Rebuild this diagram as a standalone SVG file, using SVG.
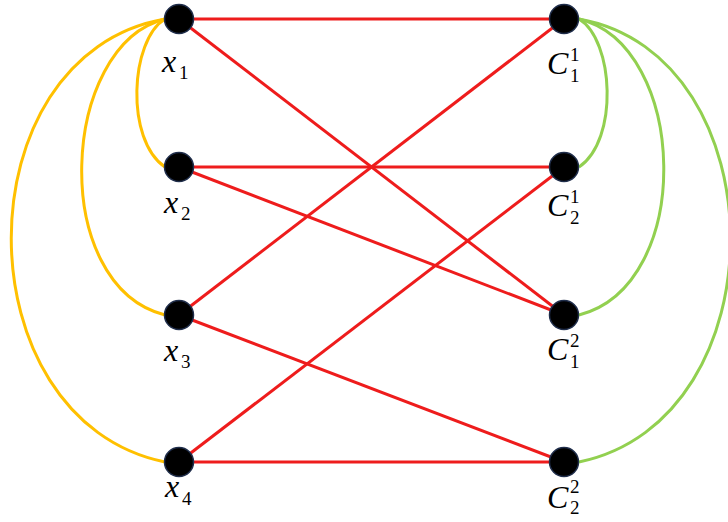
<svg xmlns="http://www.w3.org/2000/svg" width="728" height="522" viewBox="0 0 728 522">
<style>
.red{stroke:#ee1c1c;stroke-width:3;fill:none}
.yel{stroke:#ffc000;stroke-width:3;fill:none}
.grn{stroke:#92d050;stroke-width:3;fill:none}
.node{fill:#000;stroke:#1f2d4a;stroke-width:1.5}
.lbl{font-family:"Liberation Serif","DejaVu Serif",serif;font-style:italic;font-size:32px;fill:#000}
.sm{font-family:"Liberation Serif","DejaVu Serif",serif;font-size:19px;fill:#000}
</style>
<rect width="728" height="522" fill="#fff"/>
<g id="connectors">
<path class="yel" d="M165,19 C130,40 125,140 165,167"/>
<path class="yel" d="M165,19 C60,45 48,285 165,315"/>
<path class="yel" d="M165,19 C-40,55 -40,420 165,462"/>
<path class="grn" d="M579,19 C614,40 619,140 579,167"/>
<path class="grn" d="M579,19 C688,45 696,285 579,315"/>
<path class="grn" d="M579,19 C780,55 782,420 579,462"/>
<line class="red" x1="179" y1="19" x2="564" y2="19"/>
<line class="red" x1="179" y1="19" x2="564" y2="315"/>
<line class="red" x1="179" y1="167" x2="564" y2="167"/>
<line class="red" x1="179" y1="167" x2="564" y2="315"/>
<line class="red" x1="179" y1="315" x2="564" y2="19"/>
<line class="red" x1="179" y1="315" x2="564" y2="462"/>
<line class="red" x1="179" y1="462" x2="564" y2="167"/>
<line class="red" x1="179" y1="462" x2="564" y2="462"/>
</g>
<g id="x1"><circle class="node" cx="179" cy="19" r="14.5"/><text class="lbl" x="162" y="72">x</text><text class="sm" x="179" y="79">1</text></g>
<g id="x2"><circle class="node" cx="179" cy="167" r="14.5"/><text class="lbl" x="164" y="213">x</text><text class="sm" x="181" y="220">2</text></g>
<g id="x3"><circle class="node" cx="179" cy="315" r="14.5"/><text class="lbl" x="164" y="361">x</text><text class="sm" x="181" y="368">3</text></g>
<g id="x4"><circle class="node" cx="179" cy="462" r="14.5"/><text class="lbl" x="165" y="497">x</text><text class="sm" x="182" y="505">4</text></g>
<g id="C11"><circle class="node" cx="564" cy="19" r="14.5"/><text class="lbl" x="547" y="74">C</text><text class="sm" x="570" y="61">1</text><text class="sm" x="570" y="82">1</text></g>
<g id="C21"><circle class="node" cx="564" cy="167" r="14.5"/><text class="lbl" x="547" y="216">C</text><text class="sm" x="570" y="203">1</text><text class="sm" x="570" y="224">2</text></g>
<g id="C12"><circle class="node" cx="564" cy="315" r="14.5"/><text class="lbl" x="547" y="360">C</text><text class="sm" x="570" y="347">2</text><text class="sm" x="570" y="368">1</text></g>
<g id="C22"><circle class="node" cx="564" cy="462" r="14.5"/><text class="lbl" x="547" y="508">C</text><text class="sm" x="570" y="493">2</text><text class="sm" x="570" y="514">2</text></g>
</svg>
